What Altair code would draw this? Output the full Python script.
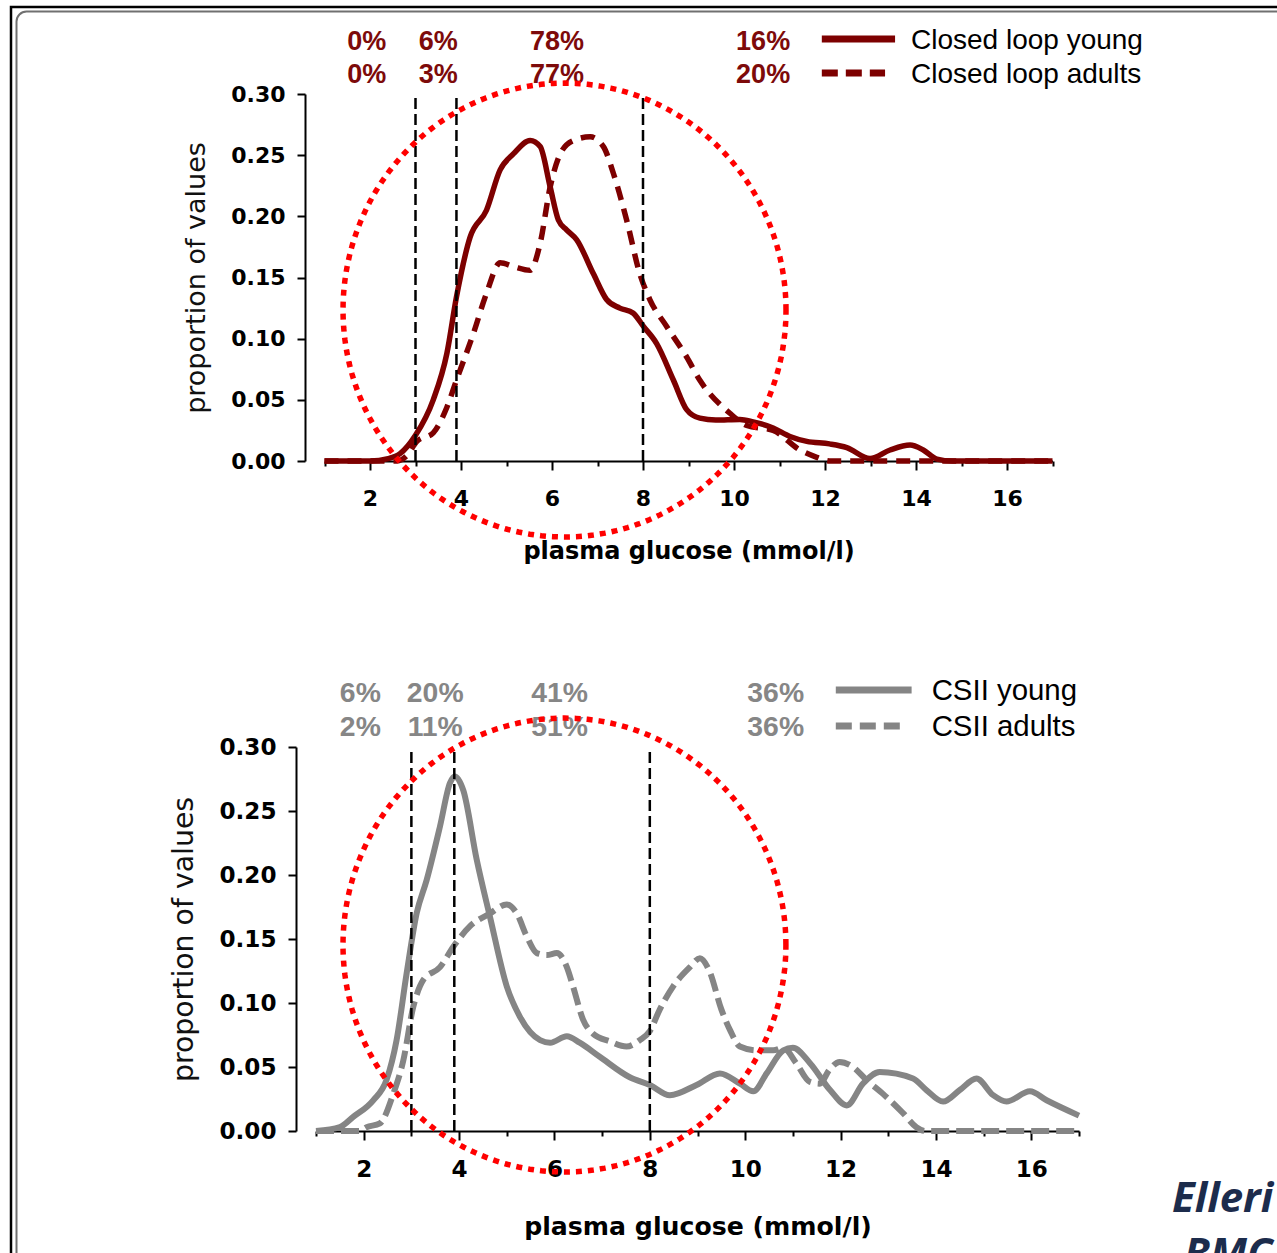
import altair as alt
import pandas as pd
import numpy as np

CANVAS_W, CANVAS_H = 1277, 1253

# ---------------- data : top panel (closed loop) ----------------
cl_young_g = [1.0, 2.0, 2.4, 2.66, 3.0, 3.39, 3.69, 3.9, 4.2, 4.56, 4.86, 5.15, 5.52, 5.74,
              5.96, 6.14, 6.32, 6.54, 6.91, 7.2, 7.49, 7.78, 8.01, 8.3, 8.67, 8.96, 9.25,
              9.6, 10.13, 10.42, 10.86, 11.23, 11.6, 12.1, 12.48, 12.99, 13.43, 13.87,
              14.16, 14.46, 14.8, 17.0]
cl_young_v = [0.0, 0.0, 0.002, 0.006, 0.021, 0.05, 0.088, 0.134, 0.183, 0.205, 0.238, 0.251,
              0.262, 0.257, 0.224, 0.197, 0.189, 0.181, 0.153, 0.132, 0.125, 0.121, 0.11,
              0.096, 0.066, 0.042, 0.035, 0.0335, 0.034, 0.032, 0.027, 0.020, 0.016, 0.014,
              0.011, 0.002, 0.009, 0.013, 0.009, 0.0016, 0.0, 0.0]
cl_adult_g = [1.0, 2.6, 2.8, 3.03, 3.39, 3.69, 3.9, 4.27, 4.56, 4.86, 5.15, 5.52, 5.74, 5.96,
              6.18, 6.47, 6.84, 7.13, 7.35, 7.64, 7.93, 8.15, 8.52, 8.96, 9.25, 9.91, 10.28,
              10.86, 11.45, 11.82, 12.1, 17.0]
cl_adult_v = [0.0, 0.0, 0.004, 0.016, 0.023, 0.044, 0.066, 0.104, 0.137, 0.162, 0.159, 0.156,
              0.178, 0.224, 0.251, 0.262, 0.265, 0.257, 0.235, 0.197, 0.153, 0.132, 0.11,
              0.085, 0.066, 0.039, 0.029, 0.025, 0.009, 0.003, 0.0, 0.0]

# ---------------- data : bottom panel (CSII) ----------------
csii_young_g = [1.0, 1.5, 1.78, 2.2, 2.48, 2.69, 2.9, 3.11, 3.32, 3.6, 3.81, 3.91, 4.09, 4.37,
                4.65, 5.0, 5.28, 5.7, 5.91, 6.26, 6.53, 6.95, 7.58, 8.0, 8.42, 8.98, 9.47,
                9.89, 10.17, 10.45, 10.8, 11.0, 11.36, 11.78, 12.13, 12.47, 12.82, 13.52,
                13.8, 14.15, 14.5, 14.85, 15.2, 15.48, 15.97, 16.32, 17.0]
csii_young_v = [0.0, 0.003, 0.011, 0.024, 0.04, 0.071, 0.123, 0.17, 0.196, 0.238, 0.272, 0.277,
                0.266, 0.212, 0.167, 0.113, 0.089, 0.071, 0.069, 0.074, 0.069, 0.058, 0.042,
                0.036, 0.028, 0.036, 0.045, 0.037, 0.031, 0.045, 0.063, 0.065, 0.053, 0.032,
                0.02, 0.037, 0.046, 0.041, 0.032, 0.023, 0.032, 0.041, 0.028, 0.023, 0.031,
                0.024, 0.012]
csii_adult_g = [1.0, 1.9, 2.06, 2.34, 2.62, 2.83, 3.04, 3.25, 3.6, 3.88, 4.23, 4.65, 5.0, 5.21,
                5.42, 5.63, 5.84, 6.05, 6.26, 6.39, 6.6, 6.81, 7.16, 7.51, 7.79, 8.0, 8.21,
                8.49, 8.84, 9.05, 9.25, 9.5, 9.68, 9.89, 10.24, 10.59, 10.8, 11.07, 11.35,
                11.56, 11.77, 11.98, 12.26, 12.54, 12.89, 13.31, 13.59, 13.78, 17.0]
csii_adult_v = [0.0, 0.0, 0.003, 0.006, 0.029, 0.055, 0.097, 0.118, 0.128, 0.144, 0.16, 0.17,
                0.177, 0.17, 0.152, 0.139, 0.1375, 0.139, 0.128, 0.113, 0.087, 0.076, 0.07,
                0.066, 0.071, 0.078, 0.095, 0.113, 0.128, 0.135, 0.125, 0.095, 0.079, 0.066,
                0.063, 0.063, 0.065, 0.053, 0.0385, 0.037, 0.048, 0.054, 0.05, 0.04, 0.029,
                0.014, 0.003, 0.0, 0.0]

# thresholds (mmol/l) and share of values per glucose band
thresholds = [3.0, 3.9, 8.0]
band_label_g = [1.93, 3.5, 6.11, 10.64]
cl_young_pct = ["0%", "6%", "78%", "16%"]
cl_adult_pct = ["0%", "3%", "77%", "20%"]
csii_young_pct = ["6%", "20%", "41%", "36%"]
csii_adult_pct = ["2%", "11%", "51%", "36%"]

x_ticks = list(range(1, 18))
y_ticks = [0.0, 0.05, 0.10, 0.15, 0.20, 0.25, 0.30]

# highlighted region (ellipse): centre and radii in data units
cl_ellipse = dict(cg=6.275, cv=0.1234, rg=4.868, rv=0.1855)
csii_ellipse = dict(cg=6.21, cv=0.1453, rg=4.644, rv=0.1773)

# ---------------- panel layout ----------------
TOP = dict(
    young_g=cl_young_g, young_v=cl_young_v, adult_g=cl_adult_g, adult_v=cl_adult_v,
    pct_y=cl_young_pct, pct_a=cl_adult_pct, names=["Closed loop young", "Closed loop adults"],
    color="#7d0000", txtcolor="#7d0a0a", ell=cl_ellipse,
    xrange=[324.5, 1052.5], yrange=[461, 94], xaxis_y=461, yaxis_x=305,
    fs=1.0, lw=5.5, dash=[14, 9],
    row_y=[50, 83], leg_y=[39, 73], leg_g=[11.93, 13.54, 13.32], leg_txt_g=13.89,
    xtitle_dy=90, ytitle_x=196,
)
BOT = dict(
    young_g=csii_young_g, young_v=csii_young_v, adult_g=csii_adult_g, adult_v=csii_adult_v,
    pct_y=csii_young_pct, pct_a=csii_adult_pct, names=["CSII young", "CSII adults"],
    color="#858585", txtcolor="#868686", ell=csii_ellipse,
    xrange=[316, 1079], yrange=[1131, 747], xaxis_y=1131, yaxis_x=296,
    fs=1.05, lw=6, dash=[18, 7],
    row_y=[702, 736], leg_y=[690, 726], leg_g=[11.9, 13.49, 13.31], leg_txt_g=13.91,
    xtitle_dy=95, ytitle_x=183,
)


def panel(p):
    f = p["fs"]
    xs = alt.Scale(domain=[1, 17], range=p["xrange"], nice=False, zero=False)
    ys = alt.Scale(domain=[0, 0.3], range=p["yrange"], nice=False, zero=False)
    xaxis = alt.Axis(
        orient="bottom", offset=p["xaxis_y"] - CANVAS_H, values=x_ticks,
        labelExpr="datum.value % 2 == 0 ? datum.label : ''",
        tickSize={"condition": {"test": "datum.value % 2 == 0", "value": 9}, "value": 5},
        tickWidth=2, tickColor="black", domainColor="black", domainWidth=2, grid=False,
        labelFont="DejaVu Sans", labelFontWeight="bold", labelFontSize=22 * f,
        labelColor="black", labelPadding=18, labelOverlap=False, labelFlush=False,
        title="plasma glucose (mmol/l)", titleFont="DejaVu Sans", titleFontWeight="bold",
        titleFontSize=24 * f, titleColor="black", titleY=p["xtitle_dy"],
        titleBaseline="middle", titlePadding=0,
    )
    ymid = (p["yrange"][0] + p["yrange"][1]) / 2
    yaxis = alt.Axis(
        orient="left", offset=-p["yaxis_x"], values=y_ticks, format=".2f",
        tickSize=8, tickWidth=2, tickColor="black", domainColor="black", domainWidth=2,
        grid=False, labelFont="DejaVu Sans", labelFontWeight="bold", labelFontSize=22 * f,
        labelColor="black", labelPadding=12, labelOverlap=False, labelFlush=False,
        title="proportion of values", titleFont="DejaVu Sans", titleFontWeight="normal",
        titleFontSize=27 * f, titleColor="#111111", titleAngle=270,
        titleX=p["ytitle_x"] - p["yaxis_x"], titleY=ymid,
        titleBaseline="middle", titleAlign="center",
    )
    X = alt.X("g:Q", scale=xs, axis=xaxis)
    Y = alt.Y("v:Q", scale=ys, axis=yaxis)

    young = pd.DataFrame({"g": p["young_g"], "v": p["young_v"]})
    adult = pd.DataFrame({"g": p["adult_g"], "v": p["adult_v"]})
    vl = pd.DataFrame({"g": thresholds, "v": [0.0] * 3, "v2": [0.3] * 3})
    pct_y = pd.DataFrame({"g": band_label_g, "label": p["pct_y"]})
    pct_a = pd.DataFrame({"g": band_label_g, "label": p["pct_a"]})
    leg_solid = pd.DataFrame({"g": [p["leg_g"][0]], "g2": [p["leg_g"][1]]})
    leg_dash = pd.DataFrame({"g": [p["leg_g"][0]], "g2": [p["leg_g"][2]]})
    leg_t1 = pd.DataFrame({"g": [p["leg_txt_g"]], "label": [p["names"][0]]})
    leg_t2 = pd.DataFrame({"g": [p["leg_txt_g"]], "label": [p["names"][1]]})
    e = p["ell"]
    th = np.linspace(0, 2 * np.pi, 241)
    ell = pd.DataFrame({"g": e["cg"] + e["rg"] * np.cos(th),
                        "v": e["cv"] + e["rv"] * np.sin(th),
                        "o": np.arange(len(th))})

    col = p["color"]
    layers = [
        alt.Chart(young).mark_line(color=col, strokeWidth=p["lw"], interpolate="monotone")
        .encode(x=X, y=Y),
        alt.Chart(adult).mark_line(color=col, strokeWidth=p["lw"], interpolate="monotone",
                                   strokeDash=p["dash"])
        .encode(x=X, y=Y),
        alt.Chart(vl).mark_rule(color="black", strokeWidth=2.5, strokeDash=[11, 5])
        .encode(x=X, y=Y, y2="v2:Q"),
        alt.Chart(pct_y).mark_text(font="Liberation Sans", fontWeight="bold",
                                   fontSize=27 * f, color=p["txtcolor"], align="center",
                                   baseline="alphabetic")
        .encode(x=X, y=alt.value(p["row_y"][0]), text="label:N"),
        alt.Chart(pct_a).mark_text(font="Liberation Sans", fontWeight="bold",
                                   fontSize=27 * f, color=p["txtcolor"], align="center",
                                   baseline="alphabetic")
        .encode(x=X, y=alt.value(p["row_y"][1]), text="label:N"),
        alt.Chart(leg_solid).mark_rule(color=col, strokeWidth=7)
        .encode(x=X, x2="g2:Q", y=alt.value(p["leg_y"][0])),
        alt.Chart(leg_dash).mark_rule(color=col, strokeWidth=7, strokeDash=[16, 8])
        .encode(x=X, x2="g2:Q", y=alt.value(p["leg_y"][1])),
        alt.Chart(leg_t1).mark_text(font="Liberation Sans", fontSize=28 * f, color="black",
                                    align="left", baseline="alphabetic")
        .encode(x=X, y=alt.value(p["leg_y"][0] + 10), text="label:N"),
        alt.Chart(leg_t2).mark_text(font="Liberation Sans", fontSize=28 * f, color="black",
                                    align="left", baseline="alphabetic")
        .encode(x=X, y=alt.value(p["leg_y"][1] + 10), text="label:N"),
        alt.Chart(ell).mark_line(color="#ff0000", strokeWidth=5.5, strokeDash=[6, 6],
                                 strokeCap="butt")
        .encode(x=X, y=Y, order="o:Q"),
    ]
    return alt.layer(*layers)


one = pd.DataFrame({"k": [0]})
deco = alt.layer(
    alt.Chart(one).mark_rect(filled=False, stroke="black", strokeWidth=2.5)
    .encode(x=alt.value(11), x2=alt.value(1500), y=alt.value(7), y2=alt.value(1500)),
    alt.Chart(one).mark_rect(filled=False, stroke="#707070", strokeWidth=2, cornerRadius=10)
    .encode(x=alt.value(16.5), x2=alt.value(1500), y=alt.value(11.5), y2=alt.value(1500)),
    alt.Chart(one).mark_text(text="Elleri", font="Open Sans", fontStyle="italic",
                             fontWeight="bold", fontSize=42, color="#1c2c4c", align="left",
                             baseline="alphabetic")
    .encode(x=alt.value(1172), y=alt.value(1212)),
    alt.Chart(one).mark_text(text="BMC", font="Open Sans", fontStyle="italic",
                             fontWeight="bold", fontSize=42, color="#1c2c4c", align="left",
                             baseline="alphabetic")
    .encode(x=alt.value(1184), y=alt.value(1268)),
)

chart = (
    alt.layer(deco, panel(TOP), panel(BOT))
    .resolve_scale(x="independent", y="independent")
    .properties(width=CANVAS_W, height=CANVAS_H, padding=0, autosize=alt.AutoSizeParams(type="none"),
                background="white")
    .configure_view(strokeWidth=0)
)

chart.save("out.html", embed_options={"renderer": "svg", "actions": False})
